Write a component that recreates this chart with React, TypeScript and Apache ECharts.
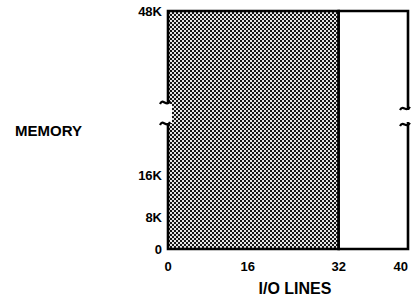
import React, { useEffect, useRef } from 'react';
import * as echarts from 'echarts';

// Tick labels of the two axes
const ioLineTicks = [0, 16, 32, 40];
const memoryTicksK = [0, 8, 16, 48];

// Regions of the memory / I/O map (memory in K)
const regionStartLines = [0, 32];
const regionEndLines = [32, 40];
const regionMemoryK = [48, 48];
const regionShaded = [1, 0];

const xTitle = 'I/O LINES';
const yTitle = 'MEMORY';

// The original figure is drawn to a schematic, non-uniform scale;
// hidden scale breaks of the axes reproduce its spacing.
const xScaleBreaks = [
  { start: 2, end: 14, gap: 5.2 },
  { start: 18, end: 30, gap: 6.5 },
];
const yScaleBreaks = [{ start: 1, end: 7, gap: 4.2 }];

const FONT = '"Liberation Sans", Arial, Helvetica, sans-serif';

export default function App() {
  const ref = useRef<HTMLDivElement>(null);

  useEffect(() => {
    document.body.style.margin = '0';
    if (!ref.current) return;
    const chart = echarts.init(ref.current, undefined, { renderer: 'svg' });

    const tile = document.createElement('canvas');
    tile.width = 4;
    tile.height = 4;
    const ctx = tile.getContext('2d')!;
    ctx.fillStyle = '#e4e4e4';
    ctx.fillRect(0, 0, 4, 4);
    ctx.fillStyle = '#141414';
    ctx.fillRect(0, 0, 2, 2);
    ctx.fillRect(2, 2, 2, 2);
    const pattern: any = {
      image: tile.toDataURL(),
      imageWidth: 4,
      imageHeight: 4,
      repeat: 'repeat',
    };

    const data = regionStartLines.map((s, i) => [s, regionEndLines[i], regionMemoryK[i], regionShaded[i]]);

    const hiddenBreakArea = {
      show: false,
      itemStyle: { opacity: 0, borderWidth: 0 },
      zigzagAmplitude: 0,
      expandOnClick: false,
    };

    const labelStyle = {
      color: '#000',
      fontWeight: 'bold' as const,
      fontFamily: FONT,
      fontSize: 13,
    };

    const squiggle = (x1: number, y1: number, x2: number, y2: number, c1x: number, c1y: number, c2x: number, c2y: number) => ({
      type: 'bezierCurve',
      z: 100,
      shape: { x1, y1, x2, y2, cpx1: c1x, cpy1: c1y, cpx2: c2x, cpy2: c2y },
      style: { stroke: '#000', lineWidth: 2.2, fill: null },
    });

    chart.setOption({
      animation: false,
      backgroundColor: '#fff',
      grid: { left: 168, right: 4, top: 11, bottom: 49, containLabel: false, outerBoundsMode: 'none' },
      xAxis: {
        type: 'value',
        min: 0,
        max: 40,
        breaks: xScaleBreaks,
        breakArea: hiddenBreakArea,
        axisLine: { show: false },
        axisTick: { show: false },
        splitLine: { show: false },
        axisLabel: {
          ...labelStyle,
          customValues: ioLineTicks,
          margin: 11,
          showMinLabel: true,
          showMaxLabel: true,
          alignMaxLabel: 'right',
        },
        name: xTitle,
        nameLocation: 'middle',
        nameGap: 31,
        nameTextStyle: { ...labelStyle, fontSize: 16, padding: [0, 0, 0, 14] },
      },
      yAxis: {
        type: 'value',
        min: 0,
        max: 48,
        breaks: yScaleBreaks,
        breakArea: hiddenBreakArea,
        axisLine: { show: false },
        axisTick: { show: false },
        splitLine: { show: false },
        axisLabel: {
          ...labelStyle,
          customValues: memoryTicksK,
          margin: 6,
          showMinLabel: true,
          showMaxLabel: true,
          formatter: (v: number) => (v === 0 ? '0' : `${v}K`),
        },
        name: yTitle,
        nameLocation: 'middle',
        nameRotate: 0,
        nameGap: 86,
        nameTextStyle: { ...labelStyle, fontSize: 15, align: 'right', padding: [16, 0, 0, 0] },
      },
      series: [
        {
          type: 'custom',
          encode: { x: [0, 1], y: 2 },
          data,
          renderItem: (params: any, api: any) => {
            const p0 = api.coord([api.value(0), 0]);
            const p1 = api.coord([api.value(1), api.value(2)]);
            return {
              type: 'rect',
              shape: { x: p0[0], y: p1[1], width: p1[0] - p0[0], height: p0[1] - p1[1] },
              style: {
                fill: api.value(3) ? pattern : '#fff',
                stroke: '#000',
                lineWidth: 2.6,
              },
            };
          },
        },
      ],
      graphic: [
        // axis-break marks on the left and right edges
        { type: 'rect', z: 99, shape: { x: 165, y: 104, width: 7, height: 19 }, style: { fill: '#fff' } },
        { type: 'rect', z: 99, shape: { x: 405, y: 110, width: 7, height: 12 }, style: { fill: '#fff' } },
        squiggle(160, 104, 170, 101, 163, 97, 166, 108),
        squiggle(160, 125, 170, 122, 163, 118, 166, 129),
        squiggle(400, 110, 410, 107, 403, 104, 406, 113),
        squiggle(400, 126, 410, 123, 403, 120, 406, 129),
      ],
    });

    return () => chart.dispose();
  }, []);

  return <div ref={ref} style={{ width: 412, height: 298 }} />;
}
